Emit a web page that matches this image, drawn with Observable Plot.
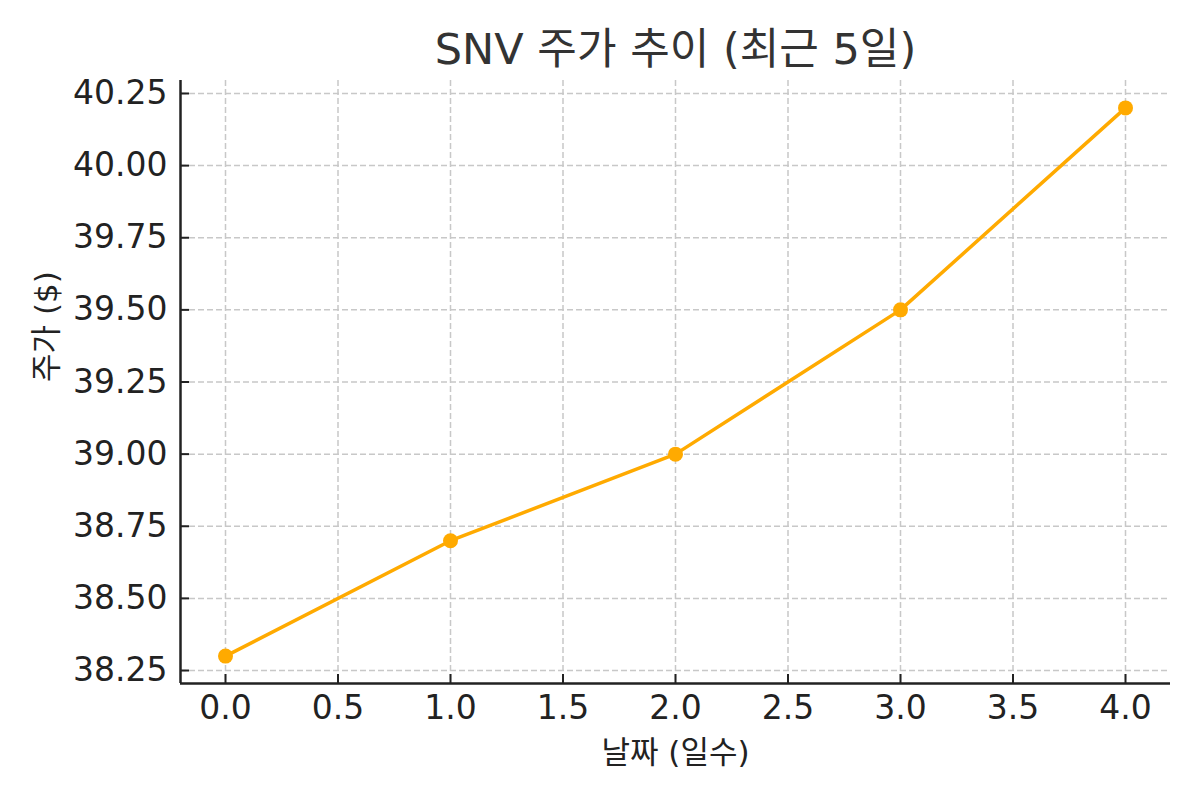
<!DOCTYPE html>
<html>
<head>
<meta charset="utf-8">
<script src="https://cdn.jsdelivr.net/npm/d3@7"></script>
<script src="https://cdn.jsdelivr.net/npm/@observablehq/plot@0.6"></script>
<style>
  html, body { margin: 0; padding: 0; background: #fff; }
  svg { font-family: "DejaVu Sans", "Noto Sans CJK KR", sans-serif; }
</style>
</head>
<body>
<div id="chart"></div>
<script>
const days = [0, 1, 2, 3, 4];
const prices = [38.3, 38.7, 39.0, 39.5, 40.2];
const xTicks = [0, 0.5, 1, 1.5, 2, 2.5, 3, 3.5, 4];
const yTicks = [38.25, 38.5, 38.75, 39.0, 39.25, 39.5, 39.75, 40.0, 40.25];
const titleText = "SNV 주가 추이 (최근 5일)";
const xLabel = "날짜 (일수)";
const yLabel = "주가 ($)";
const xDomain = [-0.2, 4.2];
const yDomain = [38.205, 40.295];

const data = days.map((d, i) => ({day: d, price: prices[i]}));
const ink = "#222";
const lineColor = "#ffaa00";

const chart = Plot.plot({
  width: 1200,
  height: 800,
  marginTop: 80,
  marginBottom: 117,
  marginLeft: 180,
  marginRight: 30,
  style: {fontFamily: '"DejaVu Sans", "Noto Sans CJK KR", sans-serif', background: "#fff"},
  x: {domain: xDomain, label: null},
  y: {domain: yDomain, label: null},
  marks: [
    Plot.gridX(xTicks, {stroke: "#c8c8c8", strokeOpacity: 1, strokeWidth: 1.5, strokeDasharray: "6,3"}),
    Plot.gridY(yTicks, {stroke: "#c8c8c8", strokeOpacity: 1, strokeWidth: 1.5, strokeDasharray: "6,3"}),
    Plot.ruleX([xDomain[0]], {stroke: ink, strokeWidth: 2.5}),
    Plot.ruleY([yDomain[0]], {stroke: ink, strokeWidth: 2.5}),
    Plot.axisX(xTicks, {tickSize: -9, text: null, stroke: ink, strokeWidth: 2, label: null}),
    Plot.axisY(yTicks, {tickSize: -9, text: null, stroke: ink, strokeWidth: 2, label: null}),
    Plot.axisX(xTicks, {tickSize: 0, tickPadding: 12, tickFormat: d3.format(".1f"), fontSize: 33, fill: ink, label: null}),
    Plot.axisY(yTicks, {tickSize: 0, tickPadding: 13, tickFormat: d3.format(".2f"), fontSize: 33, fill: ink, label: null}),
    Plot.line(data, {x: "day", y: "price", stroke: lineColor, strokeWidth: 3.5}),
    Plot.dot(data, {x: "day", y: "price", r: 7.5, fill: lineColor, stroke: null}),
    Plot.text([titleText], {frameAnchor: "top", dy: -17, lineAnchor: "bottom", fontSize: 43, fill: "#333"}),
    Plot.text([xLabel], {frameAnchor: "bottom", dy: 70, lineAnchor: "middle", fontSize: 31, fill: ink}),
    Plot.text([yLabel], {frameAnchor: "left", dx: -133, rotate: -90, lineAnchor: "middle", fontSize: 31, fill: ink})
  ]
});
document.getElementById("chart").appendChild(chart);
</script>
</body>
</html>
